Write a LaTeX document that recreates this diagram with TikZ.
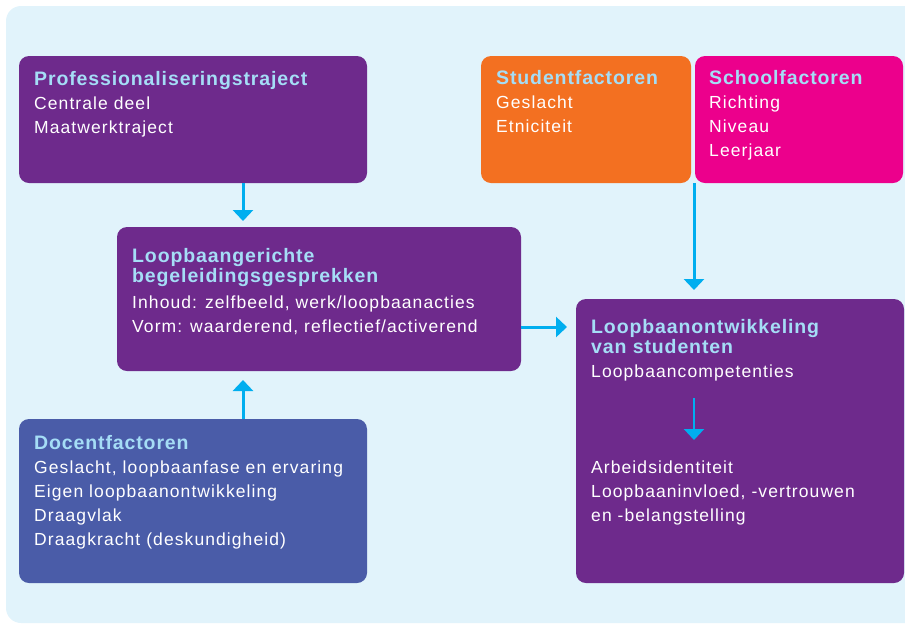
\documentclass[tikz,border=0pt]{standalone}
\usepackage{fontspec}
\setmainfont{Liberation Sans}
\newfontfamily\bodyfont[LetterSpace=6.2]{Liberation Sans}
\newfontfamily\titlefont[LetterSpace=4.5]{Liberation Sans}
\usetikzlibrary{arrows.meta,calc}
\definecolor{bgc}{HTML}{E1F3FB}
\definecolor{purp}{HTML}{6E2A8C}
\definecolor{oran}{HTML}{F37021}
\definecolor{mage}{HTML}{EC008C}
\definecolor{bluv}{HTML}{4A5CA8}
\definecolor{ttlc}{HTML}{A5DDF6}
\definecolor{arrc}{HTML}{00AEEF}
\tikzset{
  box/.style={rounded corners=10pt, inner sep=0pt, outer sep=0pt, anchor=north west},
  ttl/.style={anchor=base west, inner sep=0pt, text=ttlc, font=\titlefont\bfseries\fontsize{19.5}{20}\selectfont},
  bod/.style={anchor=base west, inner sep=0pt, text=white, font=\bodyfont\fontsize{17.5}{24}\selectfont},
  arr/.style={draw=arrc, line width=3pt, -{Triangle[width=20pt,length=11pt]}},
  arrthin/.style={draw=arrc, line width=2.2pt, -{Triangle[width=20pt,length=11pt]}},
}
\begin{document}
\begin{tikzpicture}[x=1pt,y=-1pt]
\useasboundingbox (0,0) rectangle (905,625);
\clip (0,0) rectangle (905,625);
\fill[bgc, rounded corners=15pt] (6,6) rectangle (930,623);

% boxes
\node[box, fill=purp, minimum width=348pt, minimum height=127pt] (prof) at (19,56) {};
\node[box, fill=oran, minimum width=210pt, minimum height=127pt] (stud) at (481,56) {};
\node[box, fill=mage, minimum width=208pt, minimum height=127pt] (school) at (695,56) {};
\node[box, fill=purp, minimum width=404pt, minimum height=144pt] (mid) at (117,227) {};
\node[box, fill=purp, minimum width=328pt, minimum height=284pt] (res) at (576,299) {};
\node[box, fill=bluv, minimum width=348pt, minimum height=164pt] (doc) at (19,419) {};

% texts
\node[ttl] (proft) at (34,85) {Professionaliseringstraject};
\node[bod] (profb) at (34,109) {\parbox[t]{320pt}{Centrale deel\\Maatwerktraject}};

\node[ttl] (studt) at (496,84) {Studentfactoren};
\node[bod] (studb) at (496,108) {\parbox[t]{190pt}{Geslacht\\Etniciteit}};

\node[ttl] (schoolt) at (709,84) {Schoolfactoren};
\node[bod] (schoolb) at (709,108) {\parbox[t]{190pt}{Richting\\Niveau\\Leerjaar}};

\node[ttl] (midt) at (132,262) {\parbox[t]{380pt}{Loopbaangerichte\\begeleidingsgesprekken}};
\node[bod] (midb) at (132,308) {\parbox[t]{380pt}{Inhoud: zelfbeeld, werk/loopbaanacties\\Vorm: waarderend, reflectief/activerend}};

\node[ttl] (rest) at (591,333) {\parbox[t]{300pt}{Loopbaanontwikkeling\\van studenten}};
\node[bod] (resb1) at (591,377) {Loopbaancompetenties};
\node[bod] (resb2) at (591,473) {\parbox[t]{300pt}{Arbeidsidentiteit\\Loopbaaninvloed, -vertrouwen\\en -belangstelling}};

\node[ttl] (doct) at (34,449) {Docentfactoren};
\node[bod] (docb) at (34,473) {\parbox[t]{330pt}{Geslacht, loopbaanfase en ervaring\\Eigen loopbaanontwikkeling\\Draagvlak\\Draagkracht (deskundigheid)}};

% connectors
\draw[arr] ([xshift=50pt]prof.south) -- ([xshift=-76pt,yshift=6pt]mid.north);
\draw[arr] ([xshift=50pt]doc.north) -- ([xshift=-76pt,yshift=-9pt]mid.south);
\coordinate (m1) at ([yshift=-28pt]mid.east);
\draw[arr] (m1) -- ($(m1 -| res.west)+(-9,0)$);
\draw[arr] ($(stud.south east)+(3,0)$) -- ($(res.north west)+(118,-9)$);
\coordinate (ri1) at (694,398);
\coordinate (ri2) at (694,440);
\draw[arrthin] (ri1) -- (ri2);
\end{tikzpicture}
\end{document}
